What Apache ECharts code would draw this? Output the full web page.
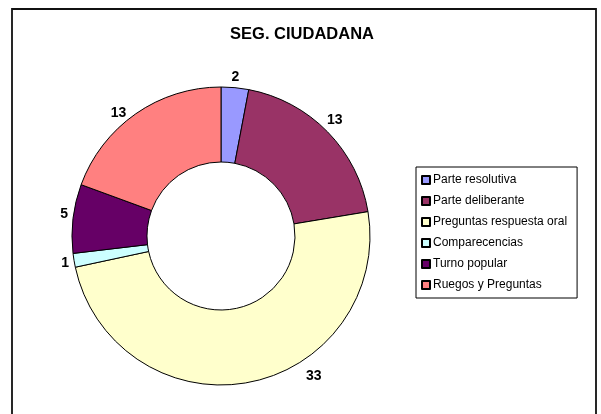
<!DOCTYPE html>
<html><head><meta charset="utf-8">
<script src="https://cdn.jsdelivr.net/npm/echarts@6/dist/echarts.min.js"></script>
<style>html,body{margin:0;padding:0;background:#fff}#c{width:601px;height:414px}</style>
</head><body><div id="c"></div>
<script>
var categories = ['Parte resolutiva','Parte deliberante','Preguntas respuesta oral','Comparecencias','Turno popular','Ruegos y Preguntas'];
var values = [2, 13, 33, 1, 5, 13];
var colors = ['#9999FF','#993366','#FFFFCC','#CCFFFF','#660066','#FF8080'];
var titleText = 'SEG. CIUDADANA';

var labelTweaks = [
  {offset: [-6, -5]},
  {offset: [-7, -8]},
  {offset: [54, -12]},
  {offset: [3, 2]},
  {offset: [3, -4]},
  {offset: [-4, 4]}
];

var chart = echarts.init(document.getElementById('c'), null, {renderer:'canvas'});
chart.setOption({
  backgroundColor: '#fff',
  animation: false,
  color: colors,
  title: {
    text: titleText, left: 297, top: 21, textAlign: 'center',
    textStyle: {fontFamily: 'Liberation Sans, Arial, sans-serif', fontSize: 16.5, fontWeight: 'bold', color: '#000'}
  },
  graphic: [{
    type: 'rect', shape: {x: 12, y: 9, width: 584, height: 420},
    style: {fill: 'none', stroke: '#111', lineWidth: 1.8}, silent: true
  }],
  legend: {
    orient: 'vertical', left: 416, top: 167, width: 161,
    padding: [6, 10, 6, 5],
    itemWidth: 8, itemHeight: 8, itemGap: 7,
    borderColor: '#000', borderWidth: 1,
    icon: 'rect',
    textStyle: {fontFamily: 'Liberation Sans, Arial, sans-serif', fontSize: 12, color: '#000', padding: [0,0,0,-2], lineHeight: 14},
    data: categories
  },
  series: [{
    type: 'pie',
    center: [221, 236],
    radius: [74, 149],
    startAngle: 90,
    clockwise: true,
    avoidLabelOverlap: false,
    itemStyle: {borderColor: '#000', borderWidth: 1},
    label: {
      show: true, position: 'outside', formatter: '{c}', distanceToLabelLine: 2,
      fontFamily: 'Liberation Sans, Arial, sans-serif', fontSize: 14, fontWeight: 'bold', color: '#000'
    },
    labelLine: {show: false, length: 6, length2: 0},
    emphasis: {disabled: true},
    data: categories.map(function(n, i){ return {name: n, value: values[i], label: labelTweaks[i]}; })
  }]
});
</script></body></html>
